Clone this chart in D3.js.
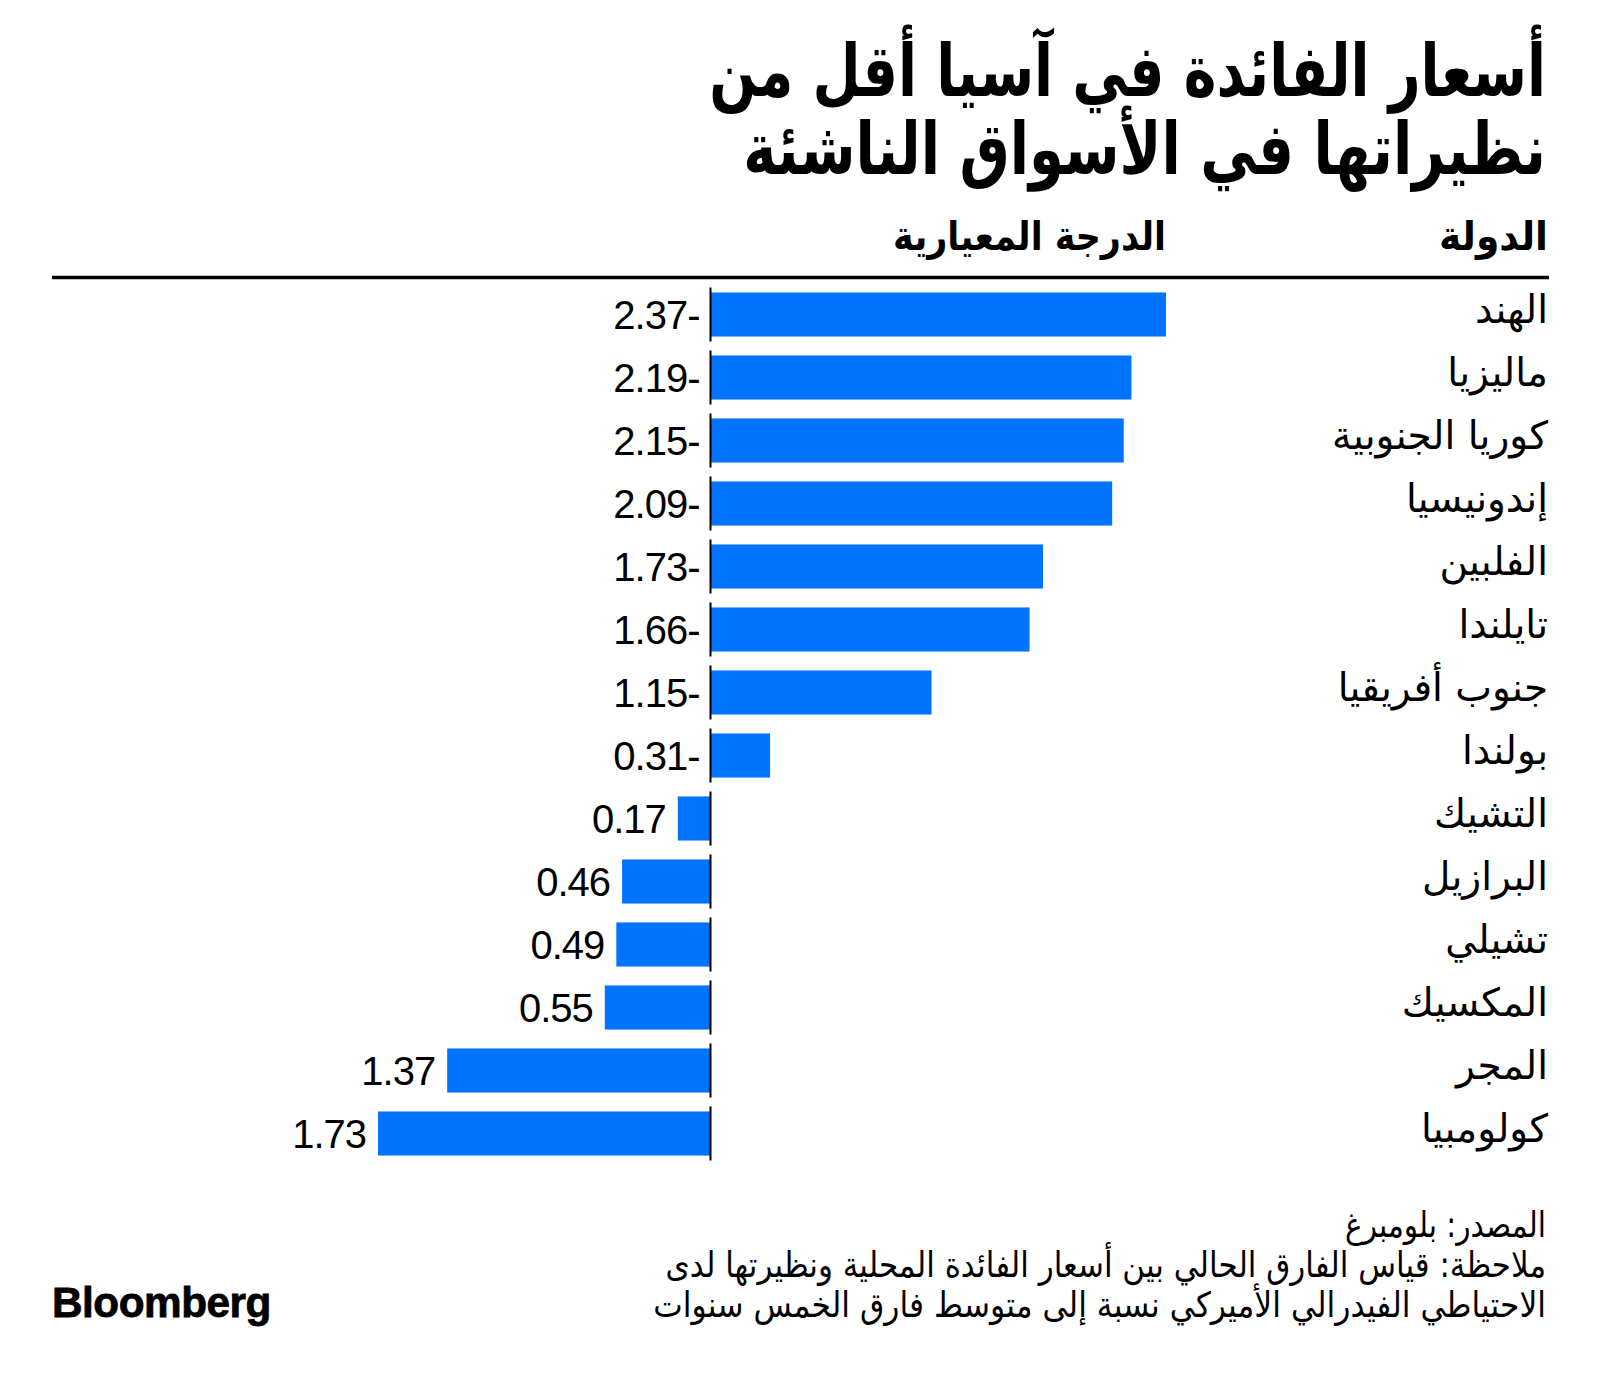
<!DOCTYPE html>
<html>
<head>
<meta charset="utf-8">
<script src="https://cdn.jsdelivr.net/npm/d3@7"></script>
<style>
  html, body { margin: 0; padding: 0; background: #fff; }
  svg { display: block; }
</style>
</head>
<body>
<script>
// ---- data ----
const countries = ["الهند","ماليزيا","كوريا الجنوبية","إندونيسيا","الفلبين","تايلندا","جنوب أفريقيا","بولندا","التشيك","البرازيل","تشيلي","المكسيك","المجر","كولومبيا"];
const zScores = [-2.37,-2.19,-2.15,-2.09,-1.73,-1.66,-1.15,-0.31,0.17,0.46,0.49,0.55,1.37,1.73];
const titleLines = ["أسعار الفائدة في آسيا أقل من","نظيراتها في الأسواق الناشئة"];
const colHeaders = ["الدولة","الدرجة المعيارية"];
const footerLines = ["المصدر: بلومبرغ","ملاحظة: قياس الفارق الحالي بين أسعار الفائدة المحلية ونظيرتها لدى","الاحتياطي الفيدرالي الأميركي نسبة إلى متوسط فارق الخمس سنوات"];
const brand = "Bloomberg";

const W = 1600, H = 1385;
const arabicBold = "'DejaVu Sans Condensed','DejaVu Sans',sans-serif";
const arabicReg = "'DejaVu Sans','Noto Sans',sans-serif";
const latin = "'Liberation Sans',Arial,Helvetica,sans-serif";

const svg = d3.select("body").append("svg").attr("width", W).attr("height", H);

function fit(sel, x, target) {
  const w = sel.node().getBBox().width;
  const k = target / w;
  sel.attr("transform", `translate(${x},0) scale(${k},1) translate(${-x},0)`);
}

// Title
const tY = [96, 174];
const tW = [837, 803];
titleLines.forEach((t, i) => {
  const s = svg.append("text").attr("x", 1546).attr("y", tY[i])
    .attr("text-anchor", "end").attr("font-family", arabicBold)
    .attr("font-weight", "bold").attr("font-size", 72).attr("fill", "#000").text(t);
  fit(s, 1546, tW[i]);
});

// Scales
const x = d3.scaleLinear().domain([d3.min(zScores), d3.max(zScores)]).range([1166, 378]);
const y = d3.scaleBand().domain(countries).range([283, 1165]).paddingInner(0.3).paddingOuter(0.15);

// Column headers
const h1 = svg.append("text").attr("x", 1548).attr("y", 250).attr("text-anchor", "end")
  .attr("font-family", arabicBold).attr("font-weight", "bold").attr("font-size", 40).text(colHeaders[0]);
fit(h1, 1548, 109);
const h2 = svg.append("text").attr("x", x(d3.min(zScores))).attr("y", 250).attr("text-anchor", "end")
  .attr("font-family", arabicBold).attr("font-weight", "bold").attr("font-size", 40).text(colHeaders[1]);
fit(h2, x(d3.min(zScores)), 273);

// Rule
svg.append("line").attr("x1", 52).attr("x2", 1549).attr("y1", 277.5).attr("y2", 277.5)
  .attr("stroke", "#000").attr("stroke-width", 3.5);

const rows = svg.append("g").selectAll("g").data(countries.map((c, i) => ({c, v: zScores[i]})))
  .join("g");

// Bars
rows.append("rect")
  .attr("x", d => Math.min(x(0), x(d.v)))
  .attr("y", d => y(d.c))
  .attr("width", d => Math.abs(x(d.v) - x(0)))
  .attr("height", y.bandwidth())
  .attr("fill", "#0074ff");

// Zero line segments
rows.append("line")
  .attr("x1", x(0)).attr("x2", x(0))
  .attr("y1", d => y(d.c) - 5).attr("y2", d => y(d.c) + y.bandwidth() + 5)
  .attr("stroke", "#000").attr("stroke-width", 2);

// Value labels
const fmt = d3.format(".2f");
rows.append("text")
  .attr("x", d => d.v < 0 ? x(0) - 11 : x(d.v) - 12)
  .attr("y", d => y(d.c) + y.bandwidth() / 2 + 14)
  .attr("text-anchor", "end")
  .attr("font-family", latin).attr("font-size", 40).attr("letter-spacing", -1)
  .attr("fill", "#000")
  .attr("direction", "ltr")
  .text(d => d.v < 0 ? fmt(Math.abs(d.v)) + "-" : fmt(d.v));

// Country labels
rows.append("text")
  .attr("x", 1548)
  .attr("y", d => y(d.c) + y.bandwidth() / 2 + 8)
  .attr("text-anchor", "end")
  .attr("font-family", arabicReg).attr("font-size", 39).attr("fill", "#000")
  .text(d => d.c);

// Footer
const fY = [1237, 1277, 1317];
const fW = [201, 881, 893];
footerLines.forEach((t, i) => {
  const s = svg.append("text").attr("x", 1546).attr("y", fY[i]).attr("text-anchor", "end")
    .attr("font-family", arabicReg).attr("font-size", 35).attr("fill", "#000").text(t);
  fit(s, 1546, fW[i]);
});

// Brand
const b = svg.append("text").attr("x", 52).attr("y", 1317)
  .attr("font-family", latin).attr("font-weight", "bold").attr("font-size", 43)
  .attr("letter-spacing", -0.5).attr("fill", "#000")
  .attr("stroke", "#000").attr("stroke-width", 0.8).text(brand);
{
  const w = b.node().getBBox().width;
  const k = 219 / w;
  b.attr("transform", `translate(52,0) scale(${k},1) translate(-52,0)`);
}
</script>
</body>
</html>
